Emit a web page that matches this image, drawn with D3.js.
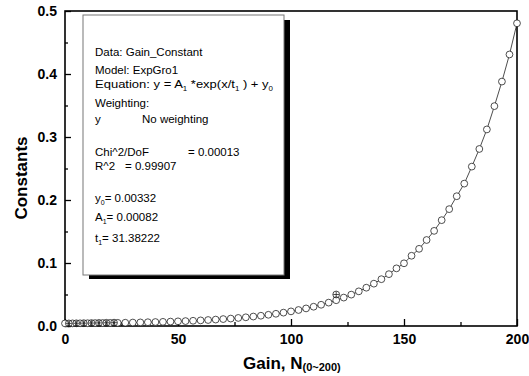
<!DOCTYPE html>
<html>
<head>
<meta charset="utf-8">
<script src="https://cdn.jsdelivr.net/npm/d3@7"></script>
<style>
  body { margin: 0; background: #fff; }
  svg { display: block; }
</style>
</head>
<body>
<div id="chart"></div>
<script>
// data
var gain = [0, 3.33, 6.67, 10, 13.33, 16.67, 20, 23.33, 26.67, 30,
            33.33, 36.67, 40, 43.33, 46.67, 50, 53.33, 56.67, 60, 63.33,
            66.67, 70, 73.33, 76.67, 80, 83.33, 86.67, 90, 93.33, 96.67,
            100, 103.33, 106.67, 110, 113.33, 116.67, 120, 123.33, 126.67, 130,
            133.33, 136.67, 140, 143.33, 146.67, 150, 153.33, 156.67, 160, 163.33,
            166.67, 170, 173.33, 176.67, 180, 183.33, 186.67, 190, 193.33, 196.67, 200];
var constants = [0.0041, 0.0042, 0.0043, 0.0044, 0.0046, 0.0047, 0.0049, 0.0050, 0.0052, 0.0055,
                 0.0057, 0.0060, 0.0063, 0.0066, 0.0070, 0.0074, 0.0078, 0.0083, 0.0089, 0.0095,
                 0.0102, 0.0110, 0.0118, 0.0128, 0.0138, 0.0150, 0.0163, 0.0178, 0.0194, 0.0212,
                 0.0232, 0.0254, 0.0279, 0.0306, 0.0337, 0.0371, 0.0409, 0.0451, 0.0498, 0.0550,
                 0.0608, 0.0672, 0.0743, 0.0823, 0.0915, 0.0995, 0.1115, 0.1225, 0.1365, 0.1510,
                 0.1680, 0.1855, 0.2060, 0.2260, 0.2530, 0.2810, 0.3120, 0.3490, 0.3880, 0.4310, 0.4805];
// extra (crossed) markers
var extraGain = [1.7, 5, 8.3, 11.7, 15, 18.3, 21.7, 120];
var extraConst = [0.0041, 0.0043, 0.0045, 0.0047, 0.0049, 0.0051, 0.0053, 0.050];

var xTicks = [0, 50, 100, 150, 200];
var xMinor = [25, 75, 125, 175];
var yTicks = [0, 0.1, 0.2, 0.3, 0.4, 0.5];
var yMinor = [0.05, 0.15, 0.25, 0.35, 0.45];

var W = 529, H = 376;
var font = "'Liberation Sans', Arial, Helvetica, sans-serif";

var svg = d3.select("#chart")
  .append("svg")
    .attr("width", W)
    .attr("height", H)
    .style("font-family", font);

var x = d3.scaleLinear().domain([0, 200]).range([65, 517]);
var y = d3.scaleLinear().domain([0, 0.5]).range([326, 11]);

// axes, ticks point inward
function styleAxis(g) {
  g.select(".domain").remove();
  g.selectAll("line").attr("stroke", "#000").attr("stroke-width", 1.3);
  g.selectAll("text").attr("fill", "#000").attr("font-weight", "bold")
    .attr("font-size", 14).style("font-family", font);
}

svg.append("g")
  .attr("transform", "translate(0,326)")
  .call(d3.axisBottom(x).tickValues(xTicks).tickSize(-7).tickPadding(8).tickFormat(d3.format("d")))
  .call(styleAxis);
svg.append("g")
  .attr("transform", "translate(0,326)")
  .call(d3.axisBottom(x).tickValues(xMinor).tickSize(-4).tickFormat(""))
  .call(styleAxis);

svg.append("g")
  .attr("transform", "translate(65,0)")
  .call(d3.axisLeft(y).tickValues(yTicks).tickSize(-6).tickPadding(8).tickFormat(d3.format(".1f")))
  .call(styleAxis);
svg.append("g")
  .attr("transform", "translate(65,0)")
  .call(d3.axisLeft(y).tickValues(yMinor).tickSize(-3).tickFormat(""))
  .call(styleAxis);

// frame
svg.append("rect")
  .attr("x", x(0)).attr("y", y(0.5))
  .attr("width", x(200) - x(0)).attr("height", y(0) - y(0.5))
  .attr("fill", "none").attr("stroke", "#000").attr("stroke-width", 1.6);

// connecting line
var line = d3.line().x(function(d) { return x(d[0]); }).y(function(d) { return y(d[1]); });
var pts = gain.map(function(g, i) { return [g, constants[i]]; });
svg.append("path")
  .datum(pts)
  .attr("d", line)
  .attr("fill", "none")
  .attr("stroke", "#000")
  .attr("stroke-width", 0.7);

// circles
svg.selectAll("circle.pt")
  .data(pts)
  .enter()
  .append("circle")
  .attr("class", "pt")
  .attr("cx", function(d) { return x(d[0]); })
  .attr("cy", function(d) { return y(d[1]); })
  .attr("r", 3.4)
  .attr("fill", "#fff")
  .attr("stroke", "#222")
  .attr("stroke-width", 0.8);

// crossed markers
var ex = extraGain.map(function(g, i) { return [g, extraConst[i]]; });
var exg = svg.selectAll("g.ex")
  .data(ex)
  .enter()
  .append("g")
  .attr("class", "ex")
  .attr("transform", function(d) { return "translate(" + x(d[0]) + "," + y(d[1]) + ")"; });
exg.append("circle").attr("r", 3.4).attr("fill", "none").attr("stroke", "#222").attr("stroke-width", 0.8);
exg.append("path").attr("d", "M-3,0H3M0,-3V3").attr("stroke", "#222").attr("stroke-width", 0.8);

// axis titles
svg.append("text")
  .attr("transform", "translate(27,178) rotate(-90)")
  .attr("text-anchor", "middle")
  .attr("font-weight", "bold")
  .attr("font-size", 17)
  .text("Constants");

var xt = svg.append("text")
  .attr("x", 243).attr("y", 369)
  .attr("font-weight", "bold")
  .attr("font-size", 17);
xt.append("tspan").text("Gain, N");
xt.append("tspan").attr("font-size", 11).attr("dy", 2).text("(0~200)");

// fit results box
svg.append("rect")
  .attr("x", 89).attr("y", 20).attr("width", 201).attr("height", 259)
  .attr("fill", "#000");
svg.append("rect")
  .attr("x", 83).attr("y", 15).attr("width", 201).attr("height", 260)
  .attr("fill", "#fff").attr("stroke", "#777").attr("stroke-width", 1);

function boxText(px, py, parts, len) {
  var t = svg.append("text")
    .attr("x", px).attr("y", py)
    .attr("font-size", 11.5)
    .attr("fill", "#000");
  if (len) t.attr("textLength", len).attr("lengthAdjust", "spacingAndGlyphs");
  var wasSub = false;
  parts.forEach(function(p) {
    var isSub = Array.isArray(p);
    var s = t.append("tspan").text(isSub ? p[0] : p);
    if (isSub) s.attr("font-size", 7).attr("dy", 3);
    else if (wasSub) s.attr("dy", -3);
    wasSub = isSub;
  });
}

boxText(95, 56, ["Data: Gain_Constant"]);
boxText(95, 74, ["Model: ExpGro1"]);
boxText(95, 88, ["Equation: y = A", ["1"], " *exp(x/t", ["1"], " ) + y", ["0"]], 178);
boxText(95, 107, ["Weighting:"]);
boxText(95, 123, ["y"]);
boxText(142, 123, ["No weighting"]);
boxText(95, 156, ["Chi^2/DoF"]);
boxText(188, 156, ["= 0.00013"]);
boxText(95, 170, ["R^2"]);
boxText(125, 170, ["=  0.99907"]);
boxText(95, 202, ["y", ["0"], "= 0.00332"]);
boxText(95, 221, ["A", ["1"], "= 0.00082"]);
boxText(95, 242, ["t", ["1"], "= 31.38222"]);
</script>
</body>
</html>
